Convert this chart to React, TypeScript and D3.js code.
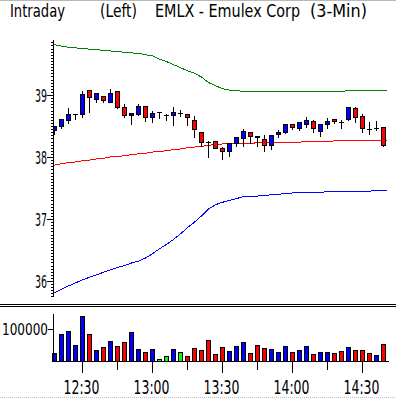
import React, { useEffect, useRef } from 'react';
import * as d3 from 'd3';

// 3-minute bars, first one partly hidden behind the price axis
const times = [
  '12:18', '12:21', '12:24', '12:27', '12:30', '12:33', '12:36', '12:39', '12:42', '12:45',
  '12:48', '12:51', '12:54', '12:57', '13:00', '13:03', '13:06', '13:09', '13:12', '13:15',
  '13:18', '13:21', '13:24', '13:27', '13:30', '13:33', '13:36', '13:39', '13:42', '13:45',
  '13:48', '13:51', '13:54', '13:57', '14:00', '14:03', '14:06', '14:09', '14:12', '14:15',
  '14:18', '14:21', '14:24', '14:27', '14:30', '14:33', '14:36', '14:39',
];

const open = [
  38.44, 38.5, 38.59, 38.7, 38.69, 39.08, 38.93, 38.98, 38.89, 39.06,
  38.8, 38.67, 38.7, 38.82, 38.65, 38.72, 38.68, 38.68, 38.71, 38.69,
  38.6, 38.4, 38.24, 38.26, 38.15, 38.1, 38.23, 38.31, 38.4, 38.34,
  38.29, 38.19, 38.37, 38.41, 38.54, 38.46, 38.53, 38.58, 38.42, 38.53,
  38.61, 38.56, 38.61, 38.79, 38.66, 38.45, 38.47, 38.48,
];
const high = [
  38.5, 38.62, 38.8, 38.7, 39.08, 39.1, 39.03, 39.0, 39.11, 39.06,
  38.87, 38.71, 38.87, 38.82, 38.76, 38.72, 38.71, 38.82, 38.77, 38.69,
  38.68, 38.42, 38.27, 38.26, 38.17, 38.22, 38.34, 38.46, 38.4, 38.34,
  38.37, 38.35, 38.45, 38.53, 38.54, 38.58, 38.66, 38.61, 38.53, 38.64,
  38.63, 38.61, 38.82, 38.82, 38.71, 38.58, 38.6, 38.48,
];
const low = [
  38.37, 38.46, 38.55, 38.61, 38.64, 38.72, 38.88, 38.88, 38.89, 38.79,
  38.65, 38.54, 38.67, 38.58, 38.57, 38.63, 38.59, 38.52, 38.66, 38.52,
  38.33, 38.18, 38.0, 38.14, 37.97, 38.02, 38.17, 38.18, 38.22, 38.17,
  38.1, 38.13, 38.32, 38.39, 38.45, 38.44, 38.49, 38.41, 38.34, 38.46,
  38.55, 38.47, 38.6, 38.57, 38.41, 38.37, 38.44, 38.18,
];
const close = [
  38.5, 38.62, 38.7, 38.7, 39.01, 38.96, 39.03, 38.92, 39.03, 38.8,
  38.67, 38.71, 38.82, 38.64, 38.71, 38.72, 38.68, 38.72, 38.71, 38.64,
  38.45, 38.25, 38.24, 38.15, 38.1, 38.22, 38.32, 38.42, 38.34, 38.32,
  38.19, 38.35, 38.41, 38.53, 38.48, 38.56, 38.6, 38.47, 38.53, 38.58,
  38.58, 38.56, 38.8, 38.64, 38.46, 38.45, 38.47, 38.2,
];

// envelope lines
const upperBand = [
  39.81, 39.79, 39.77, 39.76, 39.75, 39.74, 39.73, 39.72, 39.71, 39.7,
  39.69, 39.68, 39.67, 39.65, 39.63, 39.58, 39.54, 39.49, 39.44, 39.39,
  39.35, 39.29, 39.2, 39.15, 39.1, 39.08, 39.07, 39.06, 39.06, 39.06,
  39.05, 39.05, 39.05, 39.05, 39.05, 39.05, 39.06, 39.06, 39.06, 39.06,
  39.06, 39.06, 39.07, 39.08, 39.08, 39.08, 39.08, 39.08,
];
const midBand = [
  37.87, 37.89, 37.91, 37.92, 37.94, 37.95, 37.97, 37.98, 38.0, 38.01,
  38.02, 38.04, 38.05, 38.06, 38.08, 38.09, 38.1, 38.12, 38.13, 38.15,
  38.16, 38.17, 38.19, 38.2, 38.21, 38.21, 38.22, 38.22, 38.22, 38.23,
  38.23, 38.23, 38.24, 38.24, 38.24, 38.24, 38.25, 38.25, 38.25, 38.25,
  38.26, 38.26, 38.26, 38.27, 38.27, 38.27, 38.27, 38.27,
];
const lowerBand = [
  35.81, 35.87, 35.92, 35.97, 36.02, 36.06, 36.1, 36.14, 36.18, 36.22,
  36.25, 36.29, 36.32, 36.37, 36.44, 36.52, 36.59, 36.67, 36.76, 36.86,
  36.95, 37.05, 37.16, 37.23, 37.27, 37.3, 37.33, 37.36, 37.37, 37.37,
  37.38, 37.39, 37.4, 37.41, 37.42, 37.42, 37.43, 37.43, 37.43, 37.44,
  37.44, 37.44, 37.45, 37.45, 37.45, 37.45, 37.46, 37.46,
];

const volume = [
  26000, 84000, 94000, 50000, 140000, 84000, 34000, 44000, 62000, 47000,
  59000, 90000, 37000, 28000, 37000, 6000, 15000, 37000, 28000, 15000,
  40000, 34000, 65000, 22000, 44000, 31000, 47000, 59000, 25000, 50000,
  40000, 37000, 28000, 47000, 28000, 34000, 47000, 22000, 28000, 28000,
  25000, 31000, 44000, 34000, 34000, 25000, 19000, 53000,
];
// u = up, d = down, n = unchanged
const volDir = [
  'u', 'u', 'u', 'u', 'u', 'd', 'u', 'd', 'u', 'd',
  'd', 'u', 'u', 'd', 'u', 'n', 'n', 'u', 'n', 'd',
  'd', 'd', 'd', 'd', 'd', 'u', 'u', 'u', 'd', 'd',
  'd', 'u', 'u', 'u', 'd', 'u', 'u', 'd', 'u', 'u',
  'd', 'd', 'u', 'd', 'd', 'd', 'u', 'd',
];

const priceTicks = [36, 37, 38, 39];
const volTicks = [100000];
const timeTicks = ['12:30', '13:00', '13:30', '14:00', '14:30'];
const timeMinorTicks = ['12:45', '13:15', '13:45', '14:15'];

const FONT = "'Liberation Sans Narrow', 'Arial Narrow', 'DejaVu Sans Condensed', sans-serif";
const colors = { u: '#0000ff', d: '#ff0000', n: '#00ff00' };

const Chart = ({ width = 396, height = 398 }) => {
  const ref = useRef<SVGSVGElement>(null);

  useEffect(() => {
    const svg = d3.select(ref.current);
    svg.selectAll('*').remove();
    svg.attr('width', width).attr('height', height);

    const axisX = 53;
    const x = d3.scaleBand().domain(times).range([51, 387]);
    const cx = (t: string) => (x(t) as number) + x.bandwidth() / 2;
    const y = d3.scaleLinear().domain([36, 39]).range([281, 95]);
    const yv = d3.scaleLinear().domain([0, 100000]).range([361, 329]);
    const px = (v: number) => Math.round(v) + 0.5;

    // frame bits
    svg.append('line').attr('x1', 0).attr('x2', width).attr('y1', 0.5).attr('y2', 0.5)
      .attr('stroke', '#b8b8b8');
    svg.append('line').attr('x1', 0).attr('x2', width).attr('y1', 397.5).attr('y2', 397.5)
      .attr('stroke', '#c0c0c0').attr('stroke-dasharray', '1,1');
    [304.5, 306.5].forEach((yy) => {
      svg.append('line').attr('x1', 0).attr('x2', width).attr('y1', yy).attr('y2', yy)
        .attr('stroke', '#000');
    });

    // title
    const title = [
      { t: 'Intraday', x: 10, w: 55 },
      { t: '(Left)', x: 100, w: 37 },
      { t: 'EMLX - Emulex Corp', x: 155, w: 145 },
      { t: '(3-Min)', x: 310, w: 57 },
    ];
    title.forEach((d) => {
      svg.append('text').attr('x', d.x).attr('y', 17).text(d.t)
        .attr('font-family', FONT).attr('font-size', 17.5)
        .attr('textLength', d.w).attr('lengthAdjust', 'spacingAndGlyphs');
    });

    svg.append('defs').append('clipPath').attr('id', 'plotClip')
      .append('rect').attr('x', 54).attr('y', 36).attr('width', 340).attr('height', 264);

    const plot = svg.append('g').attr('clip-path', 'url(#plotClip)')
      .attr('shape-rendering', 'crispEdges');

    // envelope lines
    const bandLine = (vals: number[]) => {
      const pts: [number, number][] = vals.map((v, i) => [cx(times[i]), y(v)]);
      pts.unshift([x.range()[0], y(vals[0])]);
      pts.push([x.range()[1], y(vals[vals.length - 1])]);
      return d3.line()(pts);
    };
    [[upperBand, '#008000'], [midBand, '#ff0000'], [lowerBand, '#0000ff']].forEach(([vals, c]) => {
      plot.append('path').attr('d', bandLine(vals as number[]))
        .attr('fill', 'none').attr('stroke', c as string).attr('stroke-width', 1);
    });

    // candles
    times.forEach((t, i) => {
      const c = cx(t);
      plot.append('line').attr('x1', c).attr('x2', c)
        .attr('y1', px(y(high[i]))).attr('y2', px(y(low[i])))
        .attr('stroke', '#000');
      if (open[i] === close[i]) {
        plot.append('line').attr('x1', c - 2.5).attr('x2', c + 2.5)
          .attr('y1', px(y(close[i]))).attr('y2', px(y(close[i])))
          .attr('stroke', '#000');
      } else {
        const top = px(y(Math.max(open[i], close[i])));
        const bot = px(y(Math.min(open[i], close[i])));
        plot.append('rect').attr('x', c - 2).attr('width', 4)
          .attr('y', top).attr('height', Math.max(bot - top, 1))
          .attr('fill', close[i] > open[i] ? colors.u : colors.d)
          .attr('stroke', '#000');
      }
    });

    const axes = svg.append('g').attr('shape-rendering', 'crispEdges');

    // price axis
    axes.append('line').attr('x1', axisX + 0.5).attr('x2', axisX + 0.5)
      .attr('y1', 40).attr('y2', 297).attr('stroke', '#000');
    d3.range(0, 83).map((k) => 35.75 + k * 0.05).forEach((v) => {
      const yy = px(y(v));
      axes.append('line').attr('x1', axisX - 2).attr('x2', axisX)
        .attr('y1', yy).attr('y2', yy).attr('stroke', '#000');
    });
    priceTicks.forEach((v) => {
      const yy = px(y(v));
      axes.append('line').attr('x1', axisX - 6).attr('x2', axisX)
        .attr('y1', yy).attr('y2', yy).attr('stroke', '#000');
      svg.append('text').attr('x', 47).attr('y', yy + 6.3).text(String(v))
        .attr('text-anchor', 'end').attr('font-family', FONT).attr('font-size', 17.5)
        .attr('textLength', 12).attr('lengthAdjust', 'spacingAndGlyphs');
    });

    // volume
    volume.forEach((v, i) => {
      const c = cx(times[i]);
      const top = px(yv(v));
      axes.append('rect').attr('x', c - 2).attr('width', 4)
        .attr('y', top).attr('height', Math.max(px(yv(0)) - top, 1))
        .attr('fill', colors[volDir[i] as 'u' | 'd' | 'n']).attr('stroke', '#000');
    });
    axes.append('line').attr('x1', axisX + 0.5).attr('x2', axisX + 0.5)
      .attr('y1', 314).attr('y2', px(yv(0))).attr('stroke', '#000');
    axes.append('line').attr('x1', axisX).attr('x2', 389)
      .attr('y1', px(yv(0))).attr('y2', px(yv(0))).attr('stroke', '#000');
    volTicks.forEach((v) => {
      const yy = px(yv(v));
      axes.append('line').attr('x1', axisX - 5).attr('x2', axisX)
        .attr('y1', yy).attr('y2', yy).attr('stroke', '#000');
      svg.append('text').attr('x', 48).attr('y', yy + 5).text(String(v))
        .attr('text-anchor', 'end').attr('font-family', FONT).attr('font-size', 15)
        .attr('textLength', 46).attr('lengthAdjust', 'spacingAndGlyphs');
    });

    // time axis
    const base = px(yv(0));
    timeMinorTicks.forEach((t) => {
      axes.append('line').attr('x1', cx(t)).attr('x2', cx(t))
        .attr('y1', base).attr('y2', base + 8).attr('stroke', '#000');
    });
    timeTicks.forEach((t) => {
      axes.append('line').attr('x1', cx(t)).attr('x2', cx(t))
        .attr('y1', base).attr('y2', base + 11).attr('stroke', '#000');
      svg.append('text').attr('x', cx(t) - 1).attr('y', 394).text(t)
        .attr('text-anchor', 'middle').attr('font-family', FONT).attr('font-size', 19.5)
        .attr('textLength', 36).attr('lengthAdjust', 'spacingAndGlyphs');
    });
  }, [width, height]);

  return <svg ref={ref} style={{ display: 'block' }}></svg>;
};

export default function App() {
  return (
    <div>
      <style>{'body { margin: 0; background: #fff; }'}</style>
      <Chart />
    </div>
  );
}
